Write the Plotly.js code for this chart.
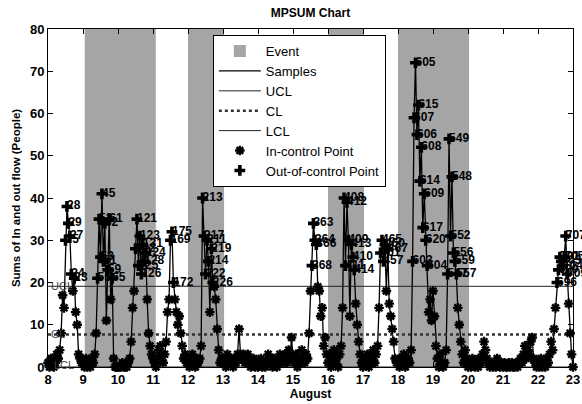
<!DOCTYPE html>
<html>
<head>
<meta charset="utf-8">
<script src="https://cdn.plot.ly/plotly-3.0.1.min.js"></script>
<style>
  html, body { margin: 0; padding: 0; background: #fff; }
  #chart { width: 582px; height: 404px; }
</style>
</head>
<body>
<div id="chart"></div>
<script>
// Hourly sums of in + out flow (people), one array per day of August
const aug08 = [1,0,2,1,0,1,3,2,4,8,17,14,30,38,34,31,22,18,21,13,10,3,2,1];
const aug09 = [1,0,2,0,1,0,2,1,3,8,21,35,26,41,25,34,11,23,35,16,21,2,0,0];
const aug10 = [0,0,0,1,0,0,0,1,2,6,14,18,28,35,24,31,22,29,25,27,16,8,5,3];
const aug11 = [2,1,0,2,4,5,3,1,3,6,13,16,30,32,20,16,13,10,12,8,5,2,3,1];
const aug12 = [1,0,2,3,1,0,2,1,2,5,40,31,22,30,25,13,28,20,19,16,9,4,1,2];
const aug13 = [2,1,0,3,1,2,1,0,2,1,3,9,3,2,3,1,2,3,1,0,1,2,0,1];
const aug14 = [0,1,2,0,1,0,1,3,2,1,0,2,1,0,1,3,2,1,2,3,1,4,2,7];
const aug15 = [2,1,3,0,2,1,4,2,1,3,2,8,18,24,34,30,29,19,18,12,14,5,7,3];
const aug16 = [1,3,0,2,4,1,2,0,3,5,14,40,24,39,30,12,29,26,23,15,10,6,3,1];
const aug17 = [0,2,1,3,0,1,2,4,1,3,5,14,27,30,25,29,18,28,15,12,9,6,2,1];
const aug18 = [1,0,2,1,3,0,1,2,1,4,25,59,72,55,62,44,52,33,41,30,24,13,16,11];
const aug19 = [18,12,5,2,0,3,1,0,1,4,22,54,31,45,27,25,22,14,10,6,3,1,4,2];
const aug20 = [0,1,0,2,1,0,1,0,2,1,3,6,4,2,1,0,1,0,1,0,2,1,0,1];
const aug21 = [0,1,0,0,1,0,1,0,0,1,0,1,2,1,3,5,2,4,3,6,7,2,1,0];
const aug22 = [1,0,2,0,1,0,2,1,3,6,4,9,14,20,23,26,25,24,26,31,22,15,8,3];
const aug23 = [0];

// Sample numbers of the out-of-control points, in time order
const outIds = [
  "25","28","29","27","24","23",
  "55","52","53","45","51","62","59","61","65",
  "122","121","125","123","126","131","128","124",
  "169","175","172",
  "213","217","222","211","214","219","226",
  "368","363","364","366",
  "408","411","412","409","413","410","414",
  "461","465","457","460","467",
  "603","607","605","606","615","614","608","617","609","620","604",
  "547","549","552","548","556","559","557",
  "696","699","701","703","704","705","707","709"
];

// Control limits
const UCL = 19.1;
const CL = 7.7;
const LCL = 0;

// Event periods (day of August)
const eventStart = [9.05, 12.0, 16.0, 18.0];
const eventEnd   = [11.08, 13.03, 17.03, 20.03];

const firstDay = 8;
const days = [aug08, aug09, aug10, aug11, aug12, aug13, aug14, aug15,
              aug16, aug17, aug18, aug19, aug20, aug21, aug22, aug23];

const t = [], v = [];
days.forEach((arr, d) => arr.forEach((val, h) => {
  t.push(firstDay + d + h / 24);
  v.push(val);
}));

const inT = [], inV = [], outT = [], outV = [], outTxt = [];
let k = 0;
t.forEach((tt, i) => {
  if (v[i] > UCL) {
    outT.push(tt); outV.push(v[i]); outTxt.push(outIds[k] || ""); k++;
  } else {
    inT.push(tt); inV.push(v[i]);
  }
});

const xMin = 8, xMax = 23;
const FONT = 'Liberation Sans, Arial, Helvetica, sans-serif';

const traces = [
  {
    type: 'bar', name: 'Event',
    x: eventStart.map((s, i) => (s + eventEnd[i]) / 2),
    y: eventStart.map(() => 80),
    width: eventStart.map((s, i) => eventEnd[i] - s),
    marker: { color: '#a5a5a5', line: { width: 0 } },
    hoverinfo: 'skip'
  },
  {
    type: 'scatter', mode: 'lines', name: 'Samples',
    x: t, y: v, line: { color: '#000', width: 1.3 }, cliponaxis: false
  },
  {
    type: 'scatter', mode: 'lines', name: 'UCL',
    x: [xMin, xMax], y: [UCL, UCL], line: { color: '#222', width: 1 }
  },
  {
    type: 'scatter', mode: 'lines', name: 'CL',
    x: [xMin, xMax], y: [CL, CL], line: { color: '#333', width: 2.5, dash: 'dot' }
  },
  {
    type: 'scatter', mode: 'lines', name: 'LCL',
    x: [xMin, xMax], y: [LCL, LCL], line: { color: '#222', width: 1 }
  },
  {
    type: 'scatter', mode: 'markers', name: 'In-control Point',
    x: inT, y: inV, cliponaxis: false,
    marker: { symbol: 'asterisk-open', size: 8, color: '#000', line: { color: '#000', width: 2.4 } }
  },
  {
    type: 'scatter', mode: 'markers', name: 'Out-of-control Point',
    x: outT, y: outV, cliponaxis: false,
    marker: { symbol: 'cross', size: 9, color: '#000', line: { width: 0 } }
  },
  {
    type: 'scatter', mode: 'text', showlegend: false, hoverinfo: 'skip',
    x: outT, y: outV, text: outTxt, textposition: 'middle right', cliponaxis: false,
    textfont: { family: FONT, size: 12, color: '#000', weight: 'bold' }
  }
];

const axisCommon = {
  showline: true, linecolor: '#000', linewidth: 1, mirror: 'ticks',
  ticks: 'inside', ticklen: 5, tickcolor: '#000', tickwidth: 1,
  showgrid: false, zeroline: false,
  tickfont: { family: FONT, size: 13, color: '#000', weight: 'bold' }
};

const layout = {
  width: 582, height: 404,
  margin: { l: 48, r: 9, t: 29, b: 37 },
  paper_bgcolor: '#fff', plot_bgcolor: '#fff',
  font: { family: FONT, color: '#000' },
  title: {
    text: 'MPSUM Chart', x: 0.5, xref: 'paper', xanchor: 'center', y: 0.968, yref: 'container', yanchor: 'middle',
    font: { family: FONT, size: 12, weight: 'bold', color: '#000' }
  },
  xaxis: Object.assign({}, axisCommon, {
    range: [xMin, xMax], tickmode: 'linear', tick0: 8, dtick: 1,
    title: { text: 'August', standoff: 2, font: { family: FONT, size: 12, weight: 'bold', color: '#000' } }
  }),
  yaxis: Object.assign({}, axisCommon, {
    range: [0, 80], tickmode: 'linear', tick0: 0, dtick: 10,
    title: { text: 'Sums of In and out flow (People)', standoff: 6, font: { family: FONT, size: 11.5, weight: 'bold', color: '#000' } }
  }),
  showlegend: true,
  legend: {
    x: 0.314, y: 0.982, xanchor: 'left', yanchor: 'top',
    bgcolor: '#fff', bordercolor: '#000', borderwidth: 1,
    font: { family: FONT, size: 13, color: '#000' },
    itemwidth: 42, tracegroupgap: 0, traceorder: 'normal'
  },
  annotations: [
    { x: 8.03, y: UCL, text: 'UCL', showarrow: false, xanchor: 'left', yanchor: 'middle', font: { family: FONT, size: 11, color: '#444' } },
    { x: 8.03, y: CL, text: 'CL', showarrow: false, xanchor: 'left', yanchor: 'middle', font: { family: FONT, size: 11, color: '#444' } },
    { x: 8.12, y: LCL + 0.5, text: 'LCL', showarrow: false, xanchor: 'left', yanchor: 'middle', font: { family: FONT, size: 11, color: '#444' } }
  ]
};

Plotly.newPlot('chart', traces, layout, { displayModeBar: false, staticPlot: true });
</script>
</body>
</html>
